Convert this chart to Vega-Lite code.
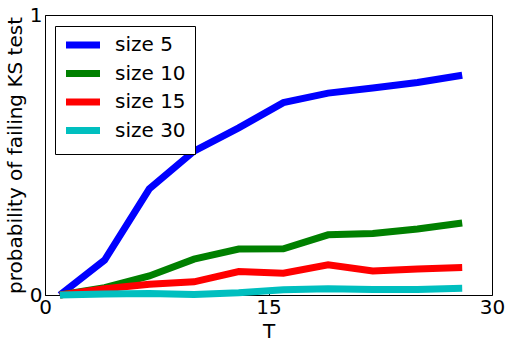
{
  "$schema": "https://vega.github.io/schema/vega-lite/v6.json",
  "width": 447,
  "height": 280,
  "autosize": {"type": "none"},
  "padding": {"left": 45, "top": 15, "right": 18, "bottom": 54},
  "config": {
    "font": "DejaVu Sans",
    "view": {"stroke": "black", "strokeWidth": 1}
  },
  "data": {
    "values": [
      {"series": "size 5", "T": 1, "p": 0.0},
      {"series": "size 5", "T": 4, "p": 0.125},
      {"series": "size 5", "T": 7, "p": 0.379},
      {"series": "size 5", "T": 10, "p": 0.514},
      {"series": "size 5", "T": 13, "p": 0.597},
      {"series": "size 5", "T": 16, "p": 0.687},
      {"series": "size 5", "T": 19, "p": 0.721},
      {"series": "size 5", "T": 22, "p": 0.739},
      {"series": "size 5", "T": 25, "p": 0.759},
      {"series": "size 5", "T": 28, "p": 0.785},
      {"series": "size 10", "T": 1, "p": 0.0},
      {"series": "size 10", "T": 4, "p": 0.026},
      {"series": "size 10", "T": 7, "p": 0.068},
      {"series": "size 10", "T": 10, "p": 0.128},
      {"series": "size 10", "T": 13, "p": 0.164},
      {"series": "size 10", "T": 16, "p": 0.165},
      {"series": "size 10", "T": 19, "p": 0.215},
      {"series": "size 10", "T": 22, "p": 0.22},
      {"series": "size 10", "T": 25, "p": 0.236},
      {"series": "size 10", "T": 28, "p": 0.257},
      {"series": "size 15", "T": 1, "p": 0.0},
      {"series": "size 15", "T": 4, "p": 0.022},
      {"series": "size 15", "T": 7, "p": 0.038},
      {"series": "size 15", "T": 10, "p": 0.047},
      {"series": "size 15", "T": 13, "p": 0.084},
      {"series": "size 15", "T": 16, "p": 0.078},
      {"series": "size 15", "T": 19, "p": 0.108},
      {"series": "size 15", "T": 22, "p": 0.086},
      {"series": "size 15", "T": 25, "p": 0.093},
      {"series": "size 15", "T": 28, "p": 0.098},
      {"series": "size 30", "T": 1, "p": 0.0},
      {"series": "size 30", "T": 4, "p": 0.004},
      {"series": "size 30", "T": 7, "p": 0.005},
      {"series": "size 30", "T": 10, "p": 0.002},
      {"series": "size 30", "T": 13, "p": 0.008},
      {"series": "size 30", "T": 16, "p": 0.019},
      {"series": "size 30", "T": 19, "p": 0.022},
      {"series": "size 30", "T": 22, "p": 0.02},
      {"series": "size 30", "T": 25, "p": 0.02},
      {"series": "size 30", "T": 28, "p": 0.024}
    ]
  },
  "mark": {"type": "line", "strokeWidth": 7, "clip": false},
  "encoding": {
    "x": {
      "field": "T", "type": "quantitative",
      "scale": {"domain": [0, 30], "nice": false, "zero": false},
      "axis": {
        "values": [0, 15, 30], "format": "d", "grid": false, "domain": false,
        "tickSize": -6, "tickColor": "black", "labelColor": "black",
        "labelFontSize": 20, "labelPadding": 8, "labelFlush": false,
        "title": "T", "titleFontSize": 20, "titleFontWeight": "normal",
        "titleColor": "black", "titlePadding": 4
      }
    },
    "y": {
      "field": "p", "type": "quantitative",
      "scale": {"domain": [0, 1], "nice": false},
      "axis": {
        "values": [0, 1], "format": "d", "grid": false, "domain": false,
        "tickSize": -6, "tickColor": "black", "labelColor": "black",
        "labelFontSize": 20, "labelPadding": 9, "labelFlush": false,
        "title": "probability of failing KS test", "titleFontSize": 20,
        "titleFontWeight": "normal", "titleColor": "black", "titlePadding": 4
      }
    },
    "color": {
      "field": "series", "type": "nominal",
      "sort": ["size 5", "size 10", "size 15", "size 30"],
      "scale": {
        "domain": ["size 5", "size 10", "size 15", "size 30"],
        "range": ["#0000ff", "#008000", "#ff0000", "#00bfbf"]
      },
      "legend": {
        "title": null, "orient": "none", "legendX": 10, "legendY": 11,
        "symbolType": "M-3.4,0H3.4", "symbolSize": 100, "symbolStrokeWidth": 7,
        "symbolOffset": 9,
        "labelFontSize": 20, "labelColor": "black", "labelOffset": 22,
        "rowPadding": 0.5, "padding": 9,
        "strokeColor": "black", "fillColor": "white"
      }
    }
  }
}
